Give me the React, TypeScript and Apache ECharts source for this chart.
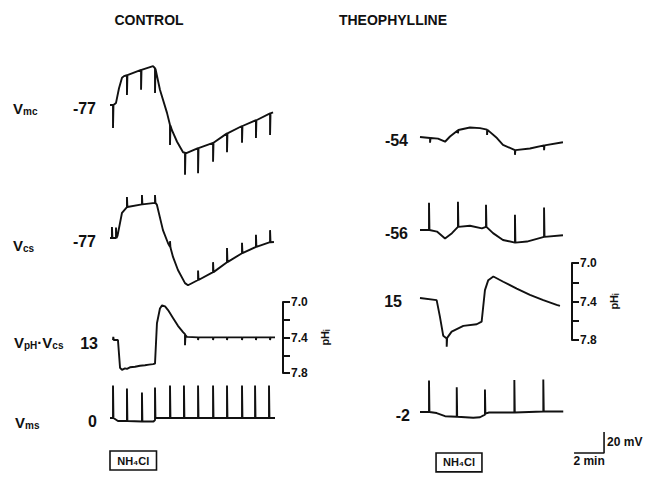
import React, { useEffect, useRef } from "react";
import * as echarts from "echarts";

// ---------- data: [time (min), potential (mV)] ----------
const controlBaselines = [-77, -77, 13, 0];
const theoBaselines = [-54, -56, 15, -2];

const vmcControl = [
  [0, -77], [0.2, -77], [0.2, -99], [0.23, -77], [0.4, -75], [0.6, -61], [0.8, -51], [0.93, -49.5],
  [1.13, -48.5], [1.13, -67.5], [1.16, -48.5], [2.07, -43.5], [2.07, -62.5], [2.1, -43.5], [2.87, -40],
  [3.0, -42], [3.0, -65.5], [3.03, -42.5], [3.33, -62.5], [3.8, -84.5], [4.0, -96], [4.0, -115], [4.03, -96.5],
  [4.13, -101], [4.47, -112], [4.87, -122], [5.0, -122.5], [5.0, -143.5], [5.03, -122.7], [5.13, -122.7],
  [5.87, -118], [5.87, -142], [5.9, -118], [6.87, -113], [6.87, -131], [6.9, -113], [7.8, -104], [7.8, -122],
  [7.83, -104], [8.8, -97], [8.8, -113], [8.83, -97], [9.73, -91.5], [9.73, -108.5], [9.76, -91.5],
  [10.67, -85], [10.67, -105.5], [10.7, -85], [10.87, -84],
];
const vcsControl = [
  [0, -77], [0.13, -77], [0.13, -66.5], [0.16, -77], [0.4, -77], [0.4, -67], [0.43, -77], [0.5, -75],
  [0.8, -53], [1.13, -47.5], [1.13, -38], [1.16, -47.5], [2.13, -45], [2.13, -36], [2.16, -45], [3.0, -43.5],
  [3.0, -36], [3.03, -43.5], [3.13, -45.5], [3.53, -69.5], [3.87, -82], [4.0, -85.5], [4.0, -80], [4.03, -86],
  [4.2, -95], [4.53, -107.5], [5.0, -120], [5.2, -122], [5.87, -117], [5.87, -108], [5.9, -117],
  [6.87, -109.5], [6.87, -100], [6.9, -109.5], [7.8, -100], [7.8, -86.5], [7.83, -100], [8.8, -91.5],
  [8.8, -81.5], [8.83, -91.5], [9.73, -85.5], [9.73, -74], [9.76, -85.5], [10.67, -81], [10.67, -69.5],
  [10.7, -81], [10.93, -80.8],
];
const phControl = [
  [0.2, 13], [0.22, 16], [0.25, 13], [0.4, 13], [0.53, 13], [0.67, -13.5], [0.8, -15.5], [1.0, -14],
  [1.13, -14.5], [1.33, -13], [1.67, -12.5], [2.0, -11.5], [2.33, -11], [2.6, -10.5], [2.87, -10], [3.0, -9.5],
  [3.13, 29], [3.33, 43], [3.47, 46], [3.67, 45], [3.87, 41.5], [4.2, 34], [4.53, 26.5], [4.87, 20.5],
  [5.0, 18.5], [5.0, 8], [5.03, 17.5], [5.13, 16], [5.87, 15.5], [5.87, 13], [5.9, 15.5], [6.87, 15.5],
  [6.87, 13], [6.9, 15.5], [7.8, 15.5], [7.8, 13], [7.83, 15.5], [8.8, 15.5], [8.8, 13], [8.83, 15.5],
  [9.73, 15.5], [9.73, 13], [9.76, 15.5], [10.67, 15.5], [10.67, 13], [10.7, 15.5], [11.0, 15.5],
];
const vmsControl = [
  [0, 0], [0.2, 0], [0.2, 32.5], [0.23, 0], [0.53, -3], [1.13, -3], [1.13, 29.5], [1.16, -3], [2.13, -3.5],
  [2.13, 25.5], [2.16, -3.5], [2.9, -3.5], [3.0, -2], [3.0, 30.5], [3.03, 0], [4.0, 0], [4.0, 32.5],
  [4.03, 0], [4.93, 0], [4.93, 32.5], [4.96, 0], [5.87, 0], [5.87, 32.5], [5.9, 0], [6.87, 0], [6.87, 32.5],
  [6.9, 0], [7.8, 0], [7.8, 32.5], [7.83, 0], [8.8, 0], [8.8, 32.5], [8.83, 0], [9.67, 0], [9.67, 32.5],
  [9.7, 0], [10.6, 0], [10.6, 32.5], [10.63, 0], [11.0, 0],
];

const vmcTheo = [
  [0, -54], [0.67, -55], [0.67, -59.5], [0.7, -55], [1.2, -55.5], [1.67, -58.5], [2.0, -53.5], [2.53, -47.5],
  [2.53, -50.5], [2.56, -47.3], [3.33, -45], [4.0, -45.5], [4.47, -47], [4.47, -52], [4.5, -47.2],
  [5.13, -55], [5.53, -61.5], [6.33, -66.5], [6.33, -71], [6.36, -66.5], [7.33, -65], [8.27, -62],
  [8.27, -66.5], [8.3, -62], [9.53, -59],
];
const vcsTheo = [
  [0, -56], [0.6, -56], [0.6, -30], [0.63, -56], [1.13, -57.5], [1.67, -64], [2.13, -59], [2.53, -53],
  [2.53, -29], [2.56, -53], [3.33, -52], [4.13, -54.5], [4.4, -53], [4.4, -32], [4.43, -53], [4.87, -59],
  [5.53, -65.5], [6.33, -68], [6.33, -41.5], [6.36, -68], [7.13, -67], [8.27, -62.5], [8.27, -34.5],
  [8.3, -62.5], [9.53, -61],
];
const phTheo = [
  [0, 15], [1.11, 13], [1.33, -3], [1.55, -21], [1.78, -23.5], [1.78, -31.5], [1.81, -23], [2.11, -17],
  [2.89, -11.5], [3.78, -10], [4.11, -7.5], [4.33, 22.5], [4.55, 32], [4.89, 35.5], [5.55, 30.5],
  [6.45, 24], [7.33, 18], [8.22, 13], [9.11, 8.5], [9.33, 7.5],
];
const vmsTheo = [
  [0, -2], [0.6, -2], [0.6, 28], [0.63, -2], [1.11, -3], [1.67, -6], [2.45, -6.5], [2.45, 21.5],
  [2.48, -6.5], [3.55, -7.5], [4.0, -7], [4.33, -4.5], [4.33, 19.5], [4.36, -3.5], [4.6, -2.5],
  [6.29, -2.5], [6.29, 28.5], [6.32, -2.5], [8.22, -1.5], [8.22, 29], [8.25, -1.5], [9.55, -1.5],
];

// NH4Cl application periods (min) and pH scale
const nh4clControl = [0, 3.1];
const nh4clTheo = [1.07, 4.13];
const phRange = [7.0, 7.8];
const phStep = 0.2;
const phLabelled = ["7.0", "7.4", "7.8"];
const scaleBarMv = 20;
const scaleBarMin = 2;

// ---------- layout ----------
const PX_PER_MIN = 15;
const PX_PER_MV = 1.05;
const FONT = '"Liberation Sans", Arial, sans-serif';
const INK = "#111";

export default function App() {
  const ref = useRef<HTMLDivElement>(null);
  useEffect(() => {
    const chart = echarts.init(ref.current!, null, { renderer: "svg" });

    const traces: any[] = [
      { data: vmcControl, base: controlBaselines[0], x0: 110, y0: 105, lo: -150, hi: -30, tMax: 12, gap: 14 },
      { data: vcsControl, base: controlBaselines[1], x0: 110, y0: 238, lo: -130, hi: -30, tMax: 12, gap: 14 },
      { data: phControl, base: controlBaselines[2], x0: 110, y0: 340, lo: -25, hi: 55, tMax: 12, gap: 15 },
      { data: vmsControl, base: controlBaselines[3], x0: 110, y0: 420, lo: -60, hi: 40, tMax: 12, gap: 13,
        box: nh4clControl, boxMv: [-33, -52] },
      { data: vmcTheo, base: theoBaselines[0], x0: 420, y0: 137, lo: -80, hi: -30, tMax: 13, gap: 12 },
      { data: vcsTheo, base: theoBaselines[1], x0: 420, y0: 230, lo: -75, hi: -20, tMax: 13, gap: 12 },
      { data: phTheo, base: theoBaselines[2], x0: 420, y0: 298, lo: -40, hi: 45, tMax: 13, gap: 18 },
      { data: vmsTheo, base: theoBaselines[3], x0: 420, y0: 412, lo: -62, hi: 35, tMax: 13, gap: 10,
        box: nh4clTheo, boxMv: [-41, -59], scaleBar: [12.27, -41] },
    ];

    const grid: any[] = [];
    const xAxis: any[] = [];
    const yAxis: any[] = [];
    const series: any[] = [];

    traces.forEach((tr, i) => {
      grid.push({
        left: tr.x0,
        top: tr.y0 - (tr.hi - tr.base) * PX_PER_MV,
        width: tr.tMax * PX_PER_MIN,
        height: (tr.hi - tr.lo) * PX_PER_MV,
      });
      xAxis.push({ gridIndex: i, type: "value", min: 0, max: tr.tMax, show: false });
      yAxis.push({ gridIndex: i, type: "value", min: tr.lo, max: tr.hi, show: false });
      const s: any = {
        type: "line",
        xAxisIndex: i,
        yAxisIndex: i,
        showSymbol: true,
        symbol: "circle",
        symbolSize: 0,
        silent: true,
        lineStyle: { color: INK, width: 1.9 },
        itemStyle: { color: INK },
        data: tr.data.map((p: number[], k: number) =>
          k === 0
            ? {
                value: p,
                label: {
                  show: true,
                  position: "left",
                  distance: tr.gap,
                  offset: [0, 3],
                  formatter: String(tr.base),
                  fontFamily: FONT,
                  fontSize: 16,
                  fontWeight: "bold",
                  color: INK,
                },
              }
            : p
        ),
      };
      if (tr.box) {
        s.markArea = {
          silent: true,
          itemStyle: { color: "#fff", borderColor: INK, borderWidth: 1.6 },
          label: {
            show: true,
            position: "inside",
            formatter: "NH\u2084Cl",
            fontFamily: FONT,
            fontSize: 11,
            fontWeight: "bold",
            color: INK,
          },
          data: [[{ coord: [tr.box[0], tr.boxMv[0]] }, { coord: [tr.box[1], tr.boxMv[1]] }]],
        };
      }
      series.push(s);
      if (tr.scaleBar) {
        const [cx, cy] = tr.scaleBar;
        series.push({
          type: "line",
          xAxisIndex: i,
          yAxisIndex: i,
          showSymbol: true,
          symbol: "circle",
          symbolSize: 0,
          silent: true,
          lineStyle: { color: INK, width: 1.6 },
          data: [
            [cx - scaleBarMin, cy],
            {
              value: [cx - scaleBarMin / 2, cy],
              label: { show: true, position: "bottom", distance: 2, formatter: `${scaleBarMin} min`,
                fontFamily: FONT, fontSize: 12, fontWeight: "bold", color: INK },
            },
            [cx, cy],
            {
              value: [cx, cy + scaleBarMv / 2],
              label: { show: true, position: "right", distance: 3, formatter: `${scaleBarMv} mV`,
                fontFamily: FONT, fontSize: 12, fontWeight: "bold", color: INK },
            },
            [cx, cy + scaleBarMv],
          ],
        });
      }
    });

    // pH scales
    const phScales = [
      { left: 110, right: 283, top: 302, bottom: 373 },
      { left: 420, right: 572, top: 263, bottom: 340 },
    ];
    phScales.forEach((g) => {
      const gi = grid.length;
      grid.push({ left: g.left, top: g.top, width: g.right - g.left, height: g.bottom - g.top });
      xAxis.push({ gridIndex: gi, type: "value", min: 0, max: 1, show: false });
      yAxis.push({
        gridIndex: gi,
        type: "value",
        position: "right",
        inverse: true,
        min: phRange[0],
        max: phRange[1],
        interval: phStep,
        splitLine: { show: false },
        axisLine: { show: true, onZero: false, lineStyle: { color: INK, width: 2 } },
        axisTick: { show: true, inside: false, length: 7, lineStyle: { color: INK, width: 2 } },
        axisLabel: {
          margin: 8,
          fontFamily: FONT,
          fontSize: 12,
          fontWeight: "bold",
          color: INK,
          formatter: (v: number) => (phLabelled.includes(v.toFixed(1)) ? v.toFixed(1) : ""),
        },
        name: "pH\u1d62",
        nameLocation: "middle",
        nameRotate: 90,
        nameGap: 36,
        nameTextStyle: { fontFamily: FONT, fontSize: 11, fontWeight: "bold", color: INK },
      });
    });

    const rowLabel = (x: number, y: number, text: string) => ({
      type: "text",
      x,
      y,
      style: {
        text,
        fill: INK,
        verticalAlign: "middle",
        rich: {
          v: { fontFamily: FONT, fontSize: 15, fontWeight: "bold", lineHeight: 18, verticalAlign: "bottom", fill: INK },
          s: { fontFamily: FONT, fontSize: 10, fontWeight: "bold", lineHeight: 8, verticalAlign: "bottom", fill: INK },
        },
      },
    });

    const option: any = {
      animation: false,
      backgroundColor: "#fff",
      grid,
      xAxis,
      yAxis,
      series,
      graphic: [
        { type: "text", x: 149, y: 20, style: { text: "CONTROL", align: "center", verticalAlign: "middle",
          fontFamily: FONT, fontSize: 14, fontWeight: "bold", fill: INK } },
        { type: "text", x: 393, y: 20, style: { text: "THEOPHYLLINE", align: "center", verticalAlign: "middle",
          fontFamily: FONT, fontSize: 14, fontWeight: "bold", fill: INK } },
        rowLabel(13, 107, "{v|V}{s|mc}"),
        rowLabel(13, 244, "{v|V}{s|cs}"),
        rowLabel(14, 341, "{v|V}{s|pH}{v|·V}{s|cs}"),
        rowLabel(15, 421, "{v|V}{s|ms}"),
      ],
    };
    chart.setOption(option);
    return () => chart.dispose();
  }, []);
  return (
    <div
      ref={ref}
      style={{ position: "fixed", left: 0, top: 0, width: 649, height: 478, background: "#fff" }}
    />
  );
}
